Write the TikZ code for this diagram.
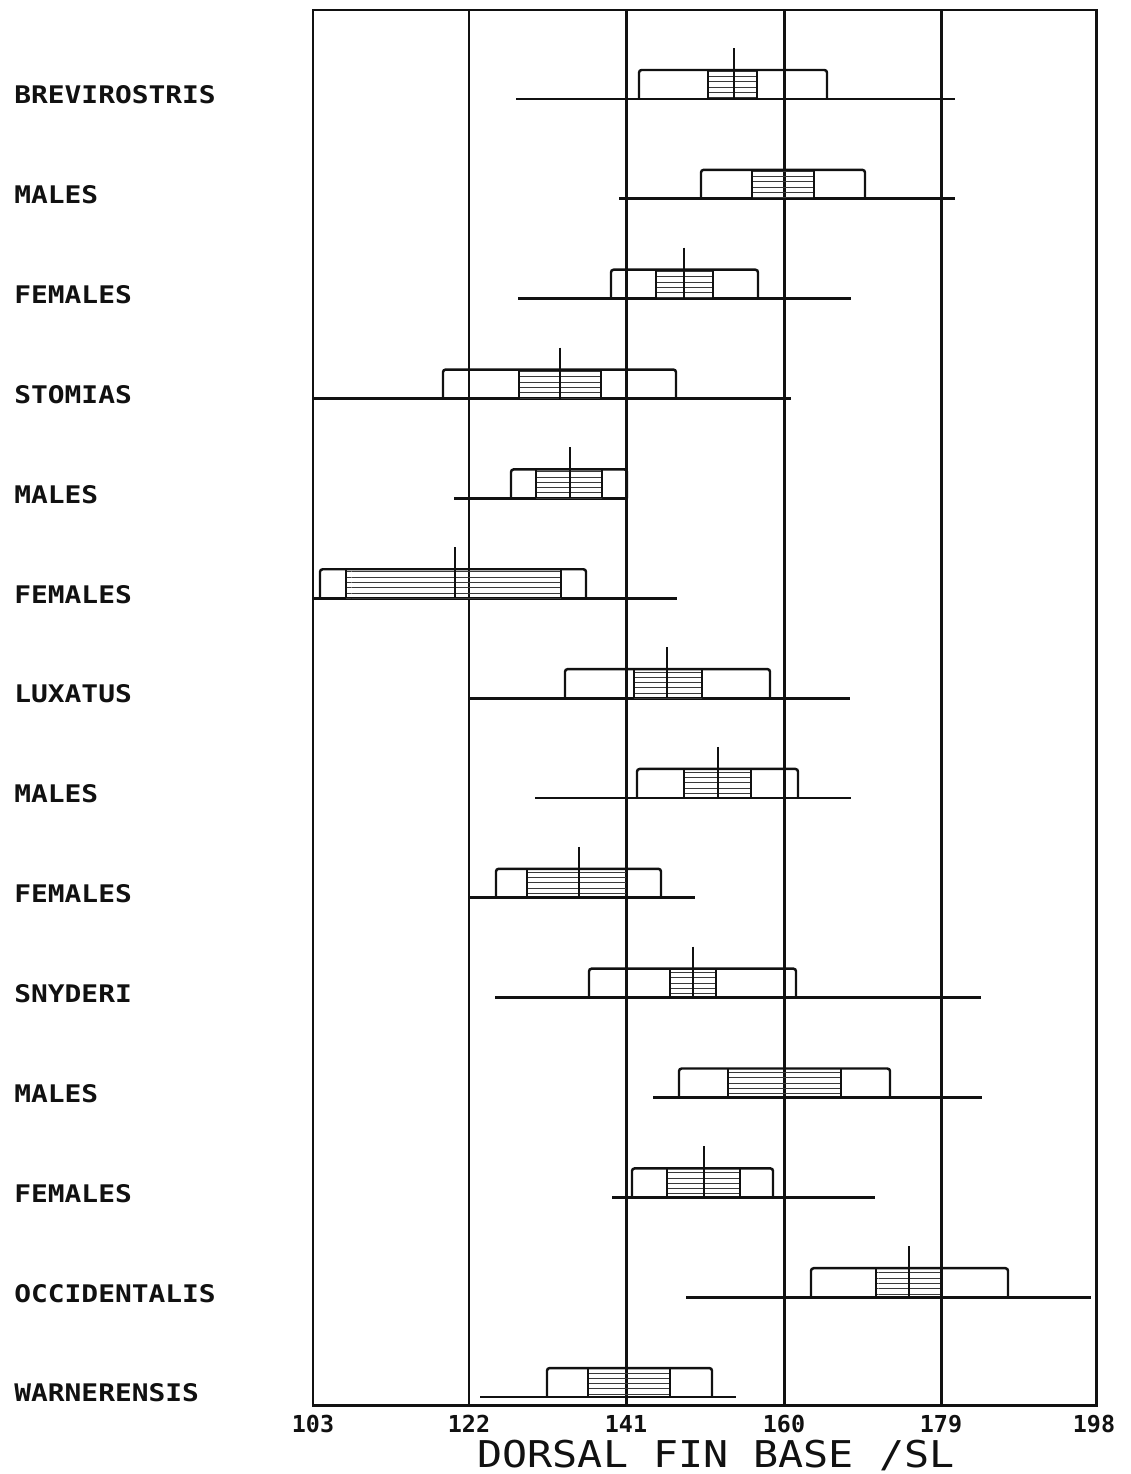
\documentclass[tikz,border=0pt]{standalone}
\usepackage{fontspec}
\usepackage{graphicx}
\setmonofont{DejaVu Sans Mono}
\usetikzlibrary{patterns}
\definecolor{ink}{HTML}{111111}
\definecolor{hatch}{HTML}{3a3a3a}
\tikzset{
    frameline/.style={line width=1.7pt, draw=ink},
    rangeline/.style={line width=1.6pt, draw=ink},
    boxline/.style={line width=1.4pt, draw=ink, rounded corners=1.5},
    hatched/.style={pattern=horizontal lines, pattern color=hatch},
    meanline/.style={line width=1.5pt, draw=ink},
    rowlabel/.style={anchor=west, inner sep=0pt, text=ink, font=\ttfamily\bfseries\fontsize{13.8}{16}\selectfont},
    ticklabel/.style={inner sep=0pt, text=ink, font=\ttfamily\bfseries\fontsize{13.3}{15}\selectfont},
    axistitle/.style={inner sep=0pt, text=ink, font=\ttfamily\fontsize{21}{24}\selectfont}
}
\begin{document}
\begin{tikzpicture}[x=0.02cm, y=-0.02cm]
	\useasboundingbox (0,0) rectangle (1131,1474);
	\draw[frameline] (313,10) rectangle (1096,1405);
	\foreach \xx in {469,626,784,941}
		\draw[frameline] (\xx,10) -- (\xx,1405);
	
	\foreach \nm/\lo/\hi/\bl/\sl/\sr/\br/\mn [count=\i] in {
		BREVIROSTRIS/516/955/639/708/757/827/734,
		MALES/619/955/701/752/814/865/0,
		FEMALES/518/851/611/656/713/758/684,
		STOMIAS/313/791/443/519/601/676/560,
		MALES/454/627/511/536/602/627/570,
		FEMALES/313/677/320/346/561/586/455,
		LUXATUS/469/850/565/634/702/770/667,
		MALES/535/851/637/684/751/798/718,
		FEMALES/470/695/496/527/627/661/579,
		SNYDERI/495/981/589/670/716/796/693,
		MALES/653/982/679/728/841/890/0,
		FEMALES/612/875/632/667/740/773/704,
		OCCIDENTALIS/686/1091/811/876/941/1008/909,
		WARNERENSIS/480/736/547/588/670/712/0}
	{
		\pgfmathsetmacro\yb{99+(\i-1)*99.85}
		\node[rowlabel] (lab\i) at (14,\yb-4) {\scalebox{1.15}[1]{\nm}};
		\draw[rangeline] (\lo,\yb) -- (\hi,\yb);
		\fill[hatched] (\sl,\yb) rectangle (\sr,\yb-29);
		\draw[boxline] (\bl,\yb) -- (\bl,\yb-29) -- (\br,\yb-29) -- (\br,\yb);
		\draw[boxline] (\sl,\yb) -- (\sl,\yb-29) (\sr,\yb) -- (\sr,\yb-29);
		\ifnum\mn>0 \draw[meanline] (\mn,\yb-51) -- (\mn,\yb); \fi
	}
	
	\foreach \v/\xx in {103/313,122/469,141/626,160/784,179/941,198/1094}
		\node[ticklabel] (tick\v) at (\xx,1424) {\v};
	\node[axistitle] (title) at (716,1455) {\scalebox{1.13}[1]{DORSAL FIN BASE /SL}};
\end{tikzpicture}
\end{document}
